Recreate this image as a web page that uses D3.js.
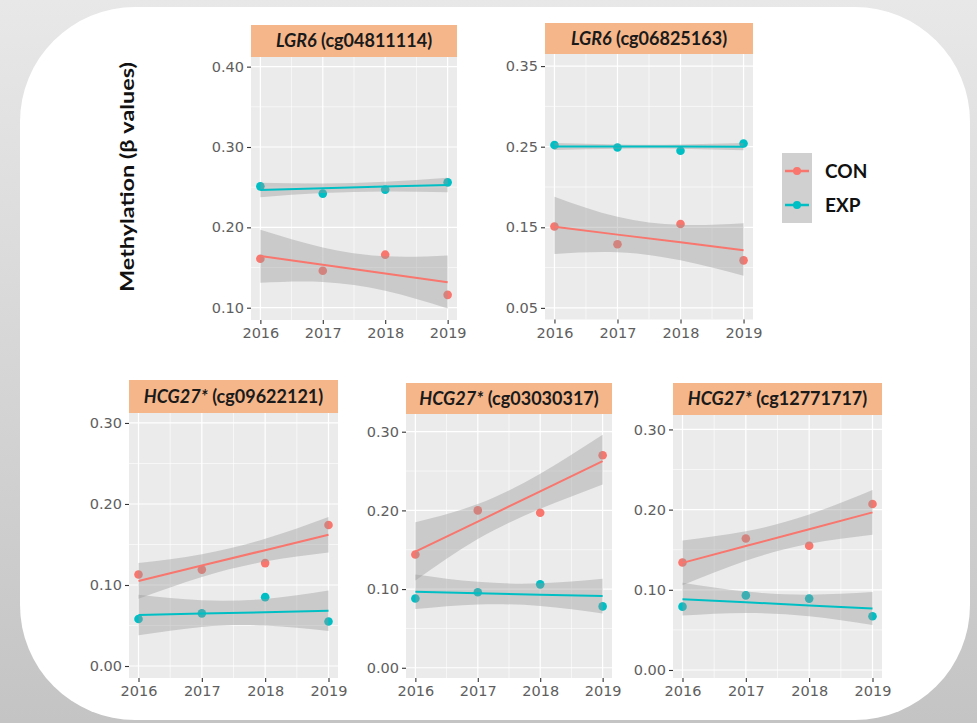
<!DOCTYPE html>
<html><head><meta charset="utf-8">
<script src="https://cdn.jsdelivr.net/npm/d3@7"></script>
<style>
html,body{margin:0;padding:0;background:#fff;}
svg{display:block;}
</style></head>
<body>
<svg id="chart" width="977" height="723"></svg>
<script>
// ---------------- DATA ----------------
const years = [2016, 2017, 2018, 2019];
const genes = ["LGR6", "LGR6", "HCG27*", "HCG27*", "HCG27*"];
const probes = ["(cg04811114)", "(cg06825163)", "(cg09622121)", "(cg03030317)", "(cg12771717)"];
const groups = ["CON", "EXP"];

// observed points
const conPoints = [
  [0.161, 0.146, 0.166, 0.116],
  [0.151, 0.129, 0.154, 0.109],
  [0.113, 0.119, 0.127, 0.174],
  [0.144, 0.200, 0.197, 0.270],
  [0.134, 0.164, 0.155, 0.207]
];
const expPoints = [
  [0.251, 0.242, 0.247, 0.256],
  [0.252, 0.249, 0.245, 0.254],
  [0.058, 0.065, 0.085, 0.055],
  [0.088, 0.096, 0.106, 0.078],
  [0.079, 0.093, 0.089, 0.067]
];
// fitted line values at each year
const conFit = [
  [0.1644, 0.1535, 0.1425, 0.1316],
  [0.1506, 0.1409, 0.1313, 0.1216],
  [0.105, 0.124, 0.143, 0.162],
  [0.1475, 0.1858, 0.2242, 0.2625],
  [0.1336, 0.1546, 0.1756, 0.1966]
];
const expFit = [
  [0.2466, 0.2487, 0.2507, 0.2528],
  [0.2502, 0.2501, 0.2501, 0.2500],
  [0.0629, 0.0647, 0.0664, 0.0682],
  [0.0966, 0.0948, 0.0929, 0.0911],
  [0.0883, 0.0844, 0.0805, 0.0766]
];
// confidence band bounds at each year
const conUpper = [
  [0.197, 0.175, 0.164, 0.165],
  [0.188, 0.163, 0.153, 0.155],
  [0.127, 0.138, 0.157, 0.184],
  [0.185, 0.208, 0.2465, 0.296],
  [0.1616, 0.1729, 0.1939, 0.2246]
];
const conLower = [
  [0.131, 0.132, 0.121, 0.099],
  [0.117, 0.119, 0.109, 0.090],
  [0.083, 0.110, 0.129, 0.140],
  [0.111, 0.1635, 0.202, 0.233],
  [0.1056, 0.1363, 0.1573, 0.1686]
];
const expUpper = [
  [0.2556, 0.2547, 0.2567, 0.2618],
  [0.2545, 0.2528, 0.2528, 0.2545],
  [0.0879, 0.0811, 0.0828, 0.0932],
  [0.1186, 0.1092, 0.1073, 0.1131],
  [0.1088, 0.0978, 0.0939, 0.0971]
];
const expLower = [
  [0.2376, 0.2427, 0.2447, 0.2438],
  [0.2459, 0.2474, 0.2474, 0.2455],
  [0.0379, 0.0483, 0.0500, 0.0432],
  [0.0746, 0.0804, 0.0785, 0.0691],
  [0.0678, 0.071, 0.0671, 0.0561]
];
// y tick labels per panel
const yTicks = [
  ["0.10", "0.20", "0.30", "0.40"],
  ["0.05", "0.15", "0.25", "0.35"],
  ["0.00", "0.10", "0.20", "0.30"],
  ["0.00", "0.10", "0.20", "0.30"],
  ["0.00", "0.10", "0.20", "0.30"]
];
const yMinor = [
  [0.15, 0.25, 0.35],
  [0.10, 0.20, 0.30],
  [0.05, 0.15, 0.25],
  [0.05, 0.15, 0.25],
  [0.05, 0.15, 0.25]
];
const yDomains = [
  [0.0847, 0.412],
  [0.0356, 0.365],
  [-0.0148, 0.3123],
  [-0.013, 0.3225],
  [-0.010, 0.318]
];
const xMinor = [2016.5, 2017.5, 2018.5];
const yTitle = "Methylation (β values)";

// ---------------- LAYOUT ----------------
const layout = [
  {x0: 251, x1: 457, sTop: 25, top: 57, bottom: 320},
  {x0: 545, x1: 753, sTop: 23, top: 54, bottom: 319.5},
  {x0: 129, x1: 338, sTop: 380, top: 413, bottom: 678},
  {x0: 406, x1: 612, sTop: 383, top: 414, bottom: 678},
  {x0: 673, x1: 882, sTop: 383, top: 415, bottom: 678}
];
const colors = {CON: "#F8766D", EXP: "#00BFC4"};
const FONT = "'DejaVu Sans', Verdana, sans-serif";
const SFONT = "Lato, 'Open Sans', sans-serif";

const svg = d3.select("#chart");
const defs = svg.append("defs");
const grad = defs.append("linearGradient").attr("id", "bg").attr("x1", 0).attr("y1", 0).attr("x2", 0).attr("y2", 1);
grad.append("stop").attr("offset", "0%").attr("stop-color", "#e8e8e8");
grad.append("stop").attr("offset", "100%").attr("stop-color", "#c4c4c4");
svg.append("rect").attr("width", 977).attr("height", 723).attr("fill", "url(#bg)");
svg.append("rect").attr("x", 20).attr("y", 7).attr("width", 950).attr("height", 713)
  .attr("rx", 115).attr("ry", 115).attr("fill", "#ffffff");

layout.forEach((L, i) => {
  const g = svg.append("g");
  const x = d3.scaleLinear().domain([2015.85, 2019.15]).range([L.x0, L.x1]);
  const y = d3.scaleLinear().domain(yDomains[i]).range([L.bottom, L.top]);

  // panel bg
  g.append("rect").attr("x", L.x0).attr("y", L.top).attr("width", L.x1 - L.x0).attr("height", L.bottom - L.top).attr("fill", "#ebebeb");
  // minor grid
  xMinor.forEach(v => g.append("line").attr("x1", x(v)).attr("x2", x(v)).attr("y1", L.top).attr("y2", L.bottom).attr("stroke", "#fff").attr("stroke-width", 0.6));
  yMinor[i].forEach(v => g.append("line").attr("x1", L.x0).attr("x2", L.x1).attr("y1", y(v)).attr("y2", y(v)).attr("stroke", "#fff").attr("stroke-width", 0.6));
  // major grid
  years.forEach(v => g.append("line").attr("x1", x(v)).attr("x2", x(v)).attr("y1", L.top).attr("y2", L.bottom).attr("stroke", "#fff").attr("stroke-width", 1.2));
  yTicks[i].forEach(t => g.append("line").attr("x1", L.x0).attr("x2", L.x1).attr("y1", y(+t)).attr("y2", y(+t)).attr("stroke", "#fff").attr("stroke-width", 1.2));

  // axes
  const ya = d3.axisLeft(y).tickValues(yTicks[i].map(Number)).tickFormat((d, k) => yTicks[i][k]).tickSize(4).tickPadding(3);
  const yg = g.append("g").attr("transform", `translate(${L.x0},0)`).call(ya);
  yg.select(".domain").remove();
  yg.selectAll("line").attr("stroke", "#333").attr("stroke-width", 1.1);
  yg.selectAll("text").attr("fill", "#5e5e5e").style("font-size", "14.5px").style("font-family", FONT);
  const xa = d3.axisBottom(x).tickValues(years).tickFormat(d3.format("d")).tickSize(4).tickPadding(4);
  const xg = g.append("g").attr("transform", `translate(0,${L.bottom})`).call(xa);
  xg.select(".domain").remove();
  xg.selectAll("line").attr("stroke", "#333").attr("stroke-width", 1.1);
  xg.selectAll("text").attr("fill", "#5e5e5e").style("font-size", "14.5px").style("font-family", FONT);

  // strip
  g.append("rect").attr("x", L.x0).attr("y", L.sTop).attr("width", L.x1 - L.x0).attr("height", L.top - L.sTop).attr("fill", "#f5b68a");
  const st = g.append("text").attr("x", (L.x0 + L.x1) / 2).attr("y", (L.sTop + L.top) / 2).attr("dy", "0.36em")
    .attr("text-anchor", "middle").style("font-family", SFONT).style("font-size", "18px").style("font-weight", "bold").attr("fill", "#1a1a1a");
  st.append("tspan").style("font-style", "italic").text(genes[i]);
  st.append("tspan").text(" " + probes[i]);

  // points (under the smooth)
  const series = [
    {k: "CON", pts: conPoints[i], fit: conFit[i], up: conUpper[i], lo: conLower[i]},
    {k: "EXP", pts: expPoints[i], fit: expFit[i], up: expUpper[i], lo: expLower[i]}
  ];
  series.forEach(s => {
    g.selectAll(null).data(s.pts).enter().append("circle")
      .attr("cx", (d, j) => x(years[j])).attr("cy", d => y(d)).attr("r", 4.3).attr("fill", colors[s.k]);
  });
  series.forEach(s => {
    const area = d3.area().x((d, j) => x(years[j])).y0((d, j) => y(s.lo[j])).y1((d, j) => y(s.up[j])).curve(d3.curveNatural);
    g.append("path").datum(years).attr("d", area).attr("fill", "#999999").attr("fill-opacity", 0.4);
    const line = d3.line().x((d, j) => x(years[j])).y(d => y(d));
    g.append("path").datum(s.fit).attr("d", line).attr("fill", "none").attr("stroke", colors[s.k]).attr("stroke-width", 2);
  });
});

// y title
svg.append("text").attr("transform", "translate(127,177) rotate(-90)").attr("text-anchor", "middle")
  .attr("dy", "0.35em").style("font-family", SFONT).style("font-weight", "bold").style("font-size", "19px")
  .attr("textLength", 230).attr("lengthAdjust", "spacingAndGlyphs").attr("fill", "#111").text(yTitle);

// legend
const lg = svg.append("g");
lg.append("rect").attr("x", 782).attr("y", 153).attr("width", 30).attr("height", 70).attr("fill", "#d0d0d0");
groups.forEach((k, j) => {
  const cy = 171 + j * 34;
  lg.append("line").attr("x1", 785).attr("x2", 809).attr("y1", cy).attr("y2", cy).attr("stroke", colors[k]).attr("stroke-width", 2.5);
  lg.append("circle").attr("cx", 797).attr("cy", cy).attr("r", 4).attr("fill", colors[k]);
  lg.append("text").attr("x", 825).attr("y", cy).attr("dy", "0.36em").style("font-family", SFONT).style("font-weight", "bold")
    .style("font-size", "19px").attr("fill", "#111").text(k);
});
</script>
</body></html>
